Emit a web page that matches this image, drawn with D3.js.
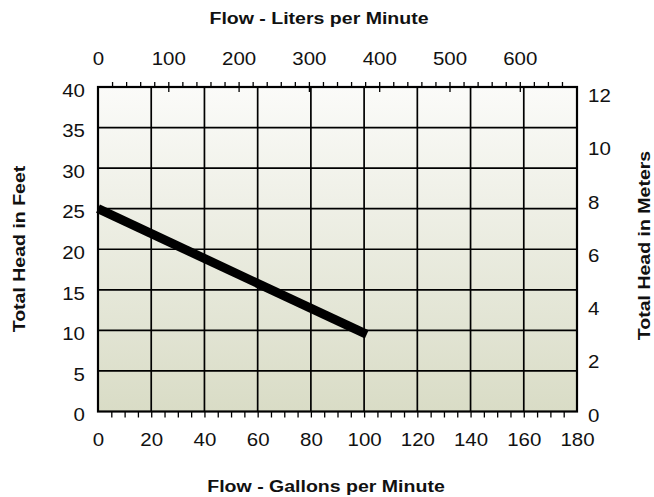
<!DOCTYPE html>
<html>
<head>
<meta charset="utf-8">
<script src="https://d3js.org/d3.v7.min.js"></script>
<style>
  body { margin: 0; background: #fff; }
  text { font-family: "Liberation Sans", Arial, sans-serif; fill: #111; }
</style>
</head>
<body>
<div id="chart"></div>
<script>

  var gpmTicks = [0, 20, 40, 60, 80, 100, 120, 140, 160, 180];
  var gpmMinor = d3.range(5, 180, 5);
  var lpmTicks = [0, 100, 200, 300, 400, 500, 600];
  var lpmMinor = d3.range(20, 680, 20).filter(function(d) { return d % 100 != 0; });
  var feetTicks = [0, 5, 10, 15, 20, 25, 30, 35, 40];
  var meterTicks = [0, 2, 4, 6, 8, 10, 12];

  // pump curve
  var curveGpm = [0, 101];
  var curveFeet = [25, 9.5];

  var width = 654, height = 497;
  var stretch = 1.17;   // the original type is wide

  var pLeft = 98, pRight = 577, pTop = 87, pBottom = 411.5;

  var svg = d3.select("#chart").append("svg")
    .attr("width", width)
    .attr("height", height);

  var x = d3.scaleLinear().domain([0, 180]).range([pLeft, pRight]);
  var xL = d3.scaleLinear().domain([0, 180 * 3.78541]).range([pLeft, pRight]);
  var y = d3.scaleLinear().domain([0, 40]).range([pBottom, pTop]);
  var yM = d3.scaleLinear().domain([0, 40 * 0.3048]).range([pBottom, pTop]);

  //=========================================================================
  // background
  //=========================================================================
  var grad = svg.append("defs").append("linearGradient")
    .attr("id", "bg")
    .attr("x1", 0).attr("y1", 0).attr("x2", 0).attr("y2", 1);
  grad.append("stop").attr("offset", "0%").attr("stop-color", "#fbfbf9");
  grad.append("stop").attr("offset", "100%").attr("stop-color", "#d9dcc6");

  svg.append("rect")
    .attr("x", pLeft).attr("y", pTop)
    .attr("width", pRight - pLeft).attr("height", pBottom - pTop)
    .attr("fill", "url(#bg)");

  //=========================================================================
  // grid
  //=========================================================================
  var grid = svg.append("g");
  grid.selectAll(".vgrid")
    .data(gpmTicks.slice(1, -1))
    .enter().append("line")
    .attr("x1", function(d) { return x(d); })
    .attr("x2", function(d) { return x(d); })
    .attr("y1", pTop).attr("y2", pBottom)
    .attr("stroke", "#000").attr("stroke-width", 1.7);
  grid.selectAll(".hgrid")
    .data(feetTicks.slice(1, -1))
    .enter().append("line")
    .attr("x1", pLeft).attr("x2", pRight)
    .attr("y1", function(d) { return y(d); })
    .attr("y2", function(d) { return y(d); })
    .attr("stroke", "#000").attr("stroke-width", 1.7);

  //=========================================================================
  // ticks
  //=========================================================================
  function plainTicks(g) {
    g.select(".domain").remove();
    g.selectAll("line").attr("stroke", "#000").attr("stroke-width", 1.3);
  }

  svg.append("g")
    .attr("transform", "translate(0," + pBottom + ")")
    .call(d3.axisBottom(x).tickValues(gpmMinor).tickSize(6).tickFormat(""))
    .call(plainTicks);

  svg.append("g")
    .attr("transform", "translate(0," + pTop + ")")
    .call(d3.axisTop(xL).tickValues(lpmMinor).tickSize(5).tickFormat(""))
    .call(plainTicks);

  svg.append("g")
    .attr("transform", "translate(0," + (pTop + 5) + ")")
    .call(d3.axisTop(xL).tickValues(lpmTicks.slice(1)).tickSize(10).tickFormat(""))
    .call(plainTicks);

  //=========================================================================
  // tick labels
  //=========================================================================
  function labelStyle(g, anchor, dx, dy) {
    g.select(".domain").remove();
    g.selectAll("line").remove();
    g.selectAll("text")
      .attr("x", 0).attr("y", 0).attr("dy", null)
      .attr("text-anchor", anchor)
      .attr("transform", "translate(" + dx + "," + dy + ") scale(" + stretch + ",1)")
      .style("font-family", "'Liberation Sans', Arial, sans-serif")
      .style("font-size", "17.5px")
      .attr("fill", "#111");
  }

  svg.append("g")
    .attr("transform", "translate(0," + pBottom + ")")
    .call(d3.axisBottom(x).tickValues(gpmTicks).tickSize(0))
    .call(labelStyle, "middle", 0, 34.5);

  svg.append("g")
    .attr("transform", "translate(0," + pTop + ")")
    .call(d3.axisTop(xL).tickValues(lpmTicks).tickSize(0))
    .call(labelStyle, "middle", 0, -22);

  svg.append("g")
    .attr("transform", "translate(" + pLeft + ",0)")
    .call(d3.axisLeft(y).tickValues(feetTicks).tickSize(0))
    .call(labelStyle, "end", -13, 9.3);

  svg.append("g")
    .attr("transform", "translate(" + pRight + ",0)")
    .call(d3.axisRight(yM).tickValues(meterTicks).tickSize(0))
    .call(labelStyle, "start", 11, 9.5);

  //=========================================================================
  // frame + curve
  //=========================================================================
  svg.append("rect")
    .attr("x", pLeft).attr("y", pTop)
    .attr("width", pRight - pLeft).attr("height", pBottom - pTop)
    .attr("fill", "none").attr("stroke", "#000").attr("stroke-width", 2.2);

  var line = d3.line()
    .x(function(d) { return x(d[0]); })
    .y(function(d) { return y(d[1]); });

  svg.append("path")
    .datum(d3.zip(curveGpm, curveFeet))
    .attr("d", line)
    .attr("fill", "none")
    .attr("stroke", "#000")
    .attr("stroke-width", 9)
    .attr("stroke-linecap", "butt");

  //=========================================================================
  // axis titles
  //=========================================================================
  function title(txt, tx, ty, rot) {
    svg.append("text")
      .attr("transform", "translate(" + tx + "," + ty + ") rotate(" + rot + ") scale(" + stretch + ",1)")
      .attr("text-anchor", "middle")
      .style("font-size", "16.7px")
      .style("font-weight", "bold")
      .text(txt);
  }

  title("Flow - Liters per Minute", 319, 24.3, 0);
  title("Flow - Gallons per Minute", 326, 492, 0);
  title("Total Head in Feet", 25, 249, -90);
  title("Total Head in Meters", 650, 245.5, -90);

</script>
</body>
</html>
